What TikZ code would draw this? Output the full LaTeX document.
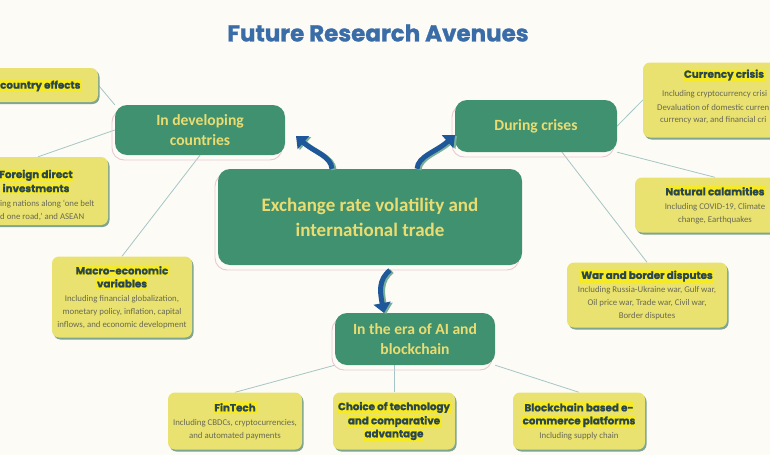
\documentclass[tikz,border=0pt]{standalone}
\usepackage{fontspec}
\setmainfont{Carlito}
\newfontfamily\headfont{Poppins}[BoldFeatures={FakeBold=1.2}]
\usetikzlibrary{arrows.meta,backgrounds}

\definecolor{paper}{RGB}{253,251,245}
\definecolor{nodegreen}{RGB}{64,145,112}
\definecolor{nodetext}{RGB}{234,220,112}
\definecolor{rimpink}{RGB}{232,200,212}
\definecolor{boxyellow}{RGB}{233,226,112}
\definecolor{boxshade}{RGB}{125,165,145}
\definecolor{hilite}{RGB}{246,234,36}
\definecolor{headdark}{RGB}{42,70,82}
\definecolor{bodygrey}{RGB}{105,105,85}
\definecolor{titleblue}{RGB}{58,108,168}
\definecolor{arrowblue}{RGB}{30,88,155}
\definecolor{arrowshade}{RGB}{120,175,150}
\definecolor{linkteal}{RGB}{165,198,198}

% highlighted heading inside the yellow boxes
\newcommand{\boxhead}[1]{{\headfont\bfseries\fontsize{10.3}{13}\selectfont\color{headdark}\setlength{\fboxsep}{1pt}\colorbox{hilite}{#1}}}

\tikzset{
  topic/.style={fill=nodegreen, text=nodetext, rounded corners=12pt, align=center, inner sep=0pt,
    font=\bfseries\fontsize{15.6}{20}\selectfont,
    preaction={draw=rimpink, line width=0.9pt, transform canvas={xshift=-3pt,yshift=-5pt}}},
  leaf/.style={fill=boxyellow, text=bodygrey, rounded corners=7pt, align=center, inner sep=0pt,
    font=\fontsize{8.8}{13}\selectfont,
    preaction={fill=boxshade, transform canvas={xshift=1.5pt,yshift=-2pt}}},
  bodytext/.style={text=bodygrey, inner sep=0pt, font=\fontsize{8.8}{13}\selectfont},
  link/.style={draw=linkteal, line width=0.8pt},
  curvearrow/.style={draw=arrowblue, line width=5pt, -{Triangle[length=10pt,width=17pt]},
    preaction={draw=arrowshade, line width=5pt, transform canvas={xshift=2pt,yshift=-1pt}}},
}

\begin{document}
\begin{tikzpicture}[x=1pt, y=-1pt]
\useasboundingbox (0,0) rectangle (770,455);
\clip (0,0) rectangle (770,455);
\begin{scope}[on background layer]
\fill[paper] (0,0) rectangle (770,455);
\end{scope}

% Title
\node[font=\headfont\bfseries\fontsize{23}{27}\selectfont, text=titleblue] (title) at (378,33) {Future Research Avenues};

% Main topics
\node[topic, minimum width=304pt, minimum height=96pt, font=\bfseries\fontsize{19}{25}\selectfont] (centre) at (370,217) {Exchange rate volatility and\\international trade};
\node[topic, minimum width=170pt, minimum height=50pt] (develop) at (200,130) {In developing\\countries};
\node[topic, minimum width=162pt, minimum height=52pt] (crises) at (536,126) {During crises};
\node[topic, minimum width=160pt, minimum height=52pt] (aiera) at (415,339) {In the era of AI and\\blockchain};

% Boxes on the left
\node[leaf, minimum width=158pt, minimum height=34pt] (crossctry) at (19,85) {};
\node[anchor=west, inner sep=0pt] (crossctry-head) at (-1,86) {\boxhead{country effects}};
\node[leaf, minimum width=140pt, minimum height=68pt] (fdi) at (38,191) {};
\node[align=center, inner sep=0pt] (fdi-head) at (36,181) {\boxhead{Foreign direct}\\\boxhead{investments}};
\node[bodytext, anchor=west, align=left] (fdi-body) at (0,210) {ing nations along ‘one belt\\d one road,’ and ASEAN};
\node[leaf, minimum width=140pt, minimum height=81pt] (macro) at (122,297) {\boxhead{Macro-economic}\\\boxhead{variables}\\[1pt] Including financial globalization,\\monetary policy, inflation, capital\\inflows, and economic development};

% Boxes on the right
\node[leaf, minimum width=162pt, minimum height=75pt] (currency) at (724,100) {};
\node[inner sep=0pt] (currency-head) at (724,75) {\boxhead{Currency crisis}};
\node[bodytext, anchor=west] (currency-l1) at (662,94) {Including cryptocurrency crisi};
\node[bodytext, anchor=west] (currency-l2) at (657,107) {Devaluation of domestic curren};
\node[bodytext, anchor=west] (currency-l3) at (660,120) {currency war, and financial cri};
\node[leaf, minimum width=160pt, minimum height=55pt] (natural) at (715,205) {\boxhead{Natural calamities}\\[1pt] Including COVID-19, Climate\\change, Earthquakes};
\node[leaf, minimum width=160pt, minimum height=65pt] (border) at (647,295) {\boxhead{War and border disputes}\\[1pt] Including Russia-Ukraine war, Gulf war,\\Oil price war, Trade war, Civil war,\\Border disputes};

% Boxes at the bottom
\node[leaf, minimum width=134pt, minimum height=57pt] (fintech) at (235,421) {\boxhead{FinTech}\\[1pt] Including CBDCs, cryptocurrencies,\\and automated payments};
\node[leaf, minimum width=122pt, minimum height=57pt] (techchoice) at (394,421) {\boxhead{Choice of technology}\\\boxhead{and comparative}\\\boxhead{advantage}};
\node[leaf, minimum width=132pt, minimum height=57pt] (ecommerce) at (579,421) {\boxhead{Blockchain based e-}\\\boxhead{commerce platforms}\\[1pt] Including supply chain};

% Connectors behind the boxes
\begin{scope}[on background layer]
\draw[link] (develop.north west) -- (crossctry.east);
\draw[link] (develop.west) -- (fdi.north);
\draw[link] (develop.south) -- (macro.north);
\draw[link] (crises.east) -- (currency.west);
\draw[link] (crises.south east) -- (natural.north);
\draw[link] ([xshift=26pt]crises.south) -- (border.north);
\draw[link] (aiera.south west) -- (fintech.north);
\draw[link] (techchoice.north) -- (techchoice.north |- aiera.south);
\draw[link] (aiera.south east) -- (ecommerce.north);
\end{scope}

% Curved arrows out of the centre
\coordinate (develop-tip) at (296,136);
\coordinate (crises-tip) at (455,135);
\coordinate (aiera-tip) at (384,313);
\draw[curvearrow] ([xshift=-38pt]centre.north) .. controls (331,156) and (314,152) .. (develop-tip);
\draw[curvearrow] ([xshift=47pt]centre.north) .. controls (418,156) and (436,152) .. (crises-tip);
\draw[curvearrow] ([xshift=20pt,yshift=-5pt]centre.south) .. controls (378,280) and (380,292) .. (aiera-tip);
\end{tikzpicture}
\end{document}
